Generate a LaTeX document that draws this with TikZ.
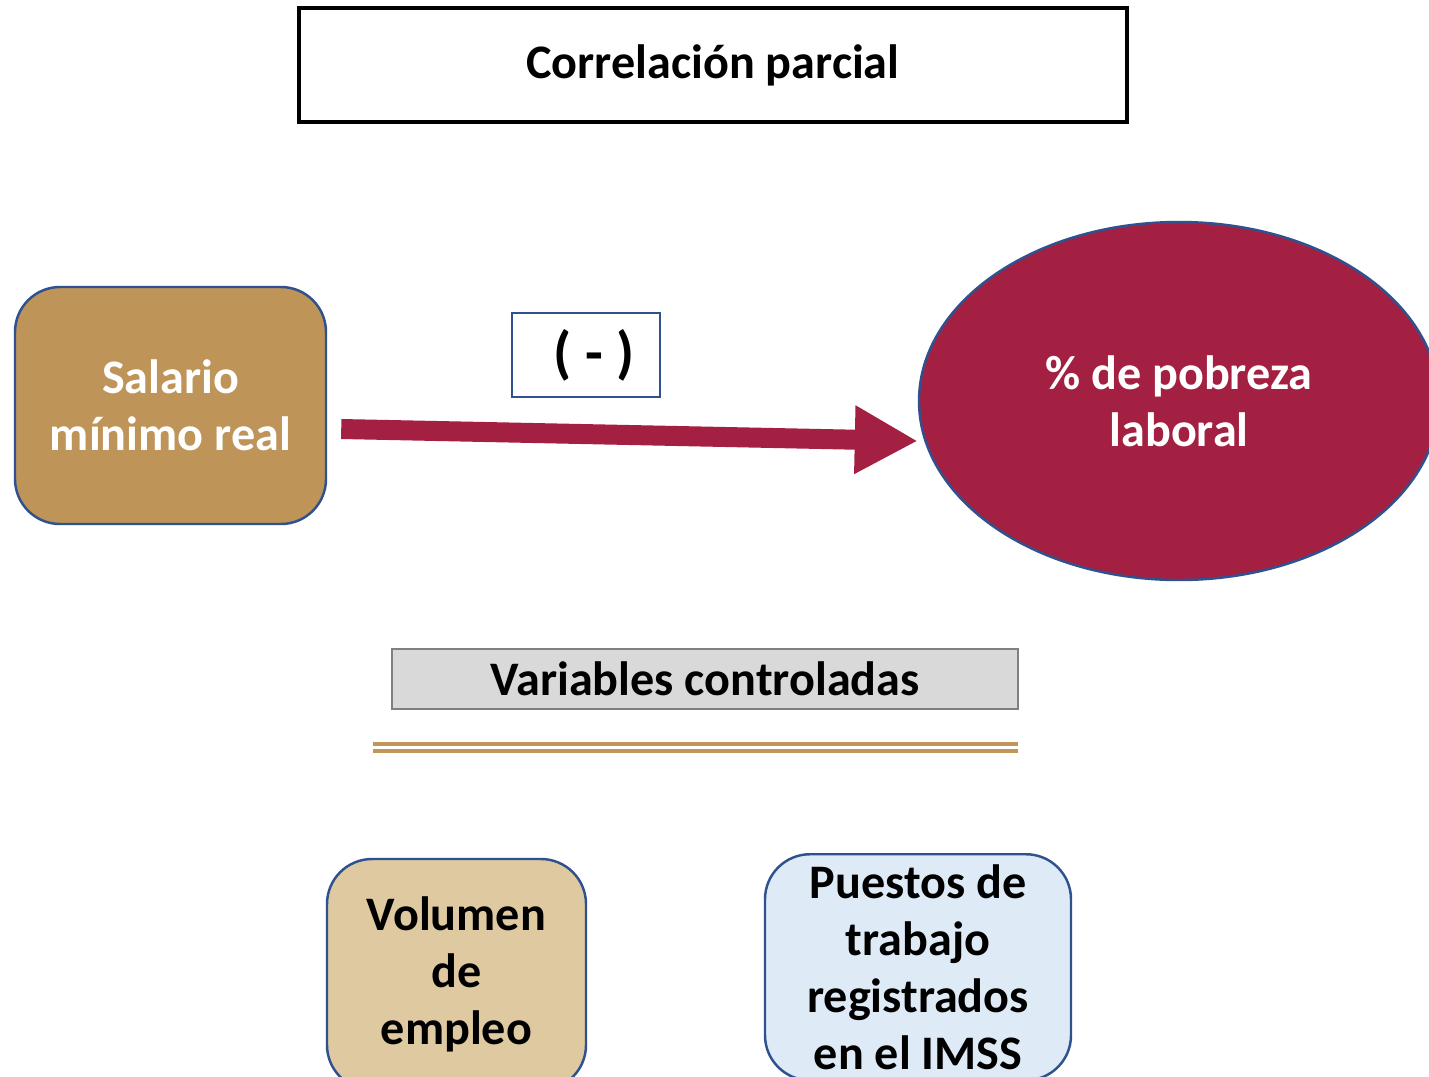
\documentclass[tikz,border=0pt]{standalone}
\usepackage{fontspec}
\setmainfont{Carlito}
\usepackage{xcolor}
\usetikzlibrary{arrows.meta,shapes.geometric}
\definecolor{oro}{RGB}{190,148,88}
\definecolor{vino}{RGB}{163,32,66}
\definecolor{azul}{RGB}{47,82,143}
\definecolor{arena}{RGB}{223,201,160}
\definecolor{cielo}{RGB}{222,235,247}
\definecolor{gris}{RGB}{217,217,217}
\definecolor{linea}{RGB}{192,150,90}

\begin{document}
\begin{tikzpicture}[inner sep=1pt,font=\fontsize{13.7}{16.2}\selectfont\bfseries,
  caja/.style={rectangle,rounded corners=0.45cm,draw=azul,line width=0.7pt,align=center},
  flecha/.style={vino,line width=0.2cm,-{Triangle[length=0.63cm,width=0.64cm]}}]
\clip (0,0) rectangle (14.29,-10.76);
\fill[white] (0,0) rectangle (14.29,-10.76);

\node[draw=black,line width=1pt,minimum width=8.28cm,minimum height=1.14cm] (T) at (7.13,-0.65) {Correlación parcial};
\node[caja,fill=oro,text=white,minimum width=3.11cm,minimum height=2.37cm] (S) at (1.705,-4.055) {Salario\\mínimo real};
\node[draw=azul,line width=0.7pt,minimum width=1.48cm,minimum height=0.84cm,font=\fontsize{16.5}{18}\selectfont\bfseries] (M) at (5.86,-3.55) {\hspace*{0.16cm}( - )};
\node[ellipse,fill=vino,draw=azul,line width=0.7pt,text=white,align=center,minimum width=5.2cm,minimum height=3.58cm] (P) at (11.79,-4.01) {\% de pobreza\\laboral};
\node[draw=gray,line width=0.7pt,fill=gris,minimum width=6.26cm,minimum height=0.6cm] (V) at (7.05,-6.79) {Variables controladas};
\node[caja,fill=arena,minimum width=2.59cm,minimum height=2.31cm] (E) at (4.565,-9.745) {Volumen\\de\\empleo};
\node[caja,fill=cielo,anchor=north,inner ysep=3pt,minimum width=3.06cm,minimum height=2cm] (R) at (9.18,-8.53) {Puestos de\\trabajo\\registrados\\en el IMSS};

\draw[linea,line width=0.04cm] (3.73,-7.44) -- (10.18,-7.44);
\draw[linea,line width=0.04cm] (3.73,-7.51) -- (10.18,-7.51);

\draw[flecha] ([xshift=0.14cm,yshift=-0.235cm]S.east) -- ([yshift=-0.4cm]P.west);
\end{tikzpicture}
\end{document}
